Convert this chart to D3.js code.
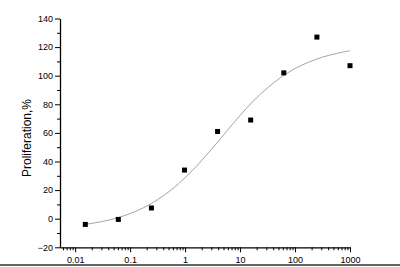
<!DOCTYPE html>
<html>
<head>
<meta charset="utf-8">
<script src="https://cdn.jsdelivr.net/npm/d3@7"></script>
<style>
  body { margin: 0; background: #fff; }
  text { font-family: "Liberation Sans", Arial, sans-serif; }
</style>
</head>
<body>
<svg id="chart" width="400" height="267"></svg>
<script>
// Measured points (concentration, proliferation %)
const concentrations = [0.0153, 0.061, 0.244, 0.977, 3.9, 15.6, 62.5, 250, 1000];
const proliferation = [-4, -0.5, 7.5, 34, 61, 69, 102, 127, 107];

// Fitted curve
const curveX = [0.0158, 0.0316, 0.0562, 0.1, 0.178, 0.316, 0.562, 1, 1.78, 3.16, 5.62, 10, 17.8, 31.6, 56.2, 100, 178, 316, 562, 1000];
const curveY = [-3.9, -1.9, 0.4, 3.6, 7.8, 13.3, 20.2, 28.7, 38.5, 49.4, 60.9, 72.2, 82.7, 91.5, 99, 105, 109.5, 113, 115.5, 117.5];

const xTickValues = [0.01, 0.1, 1, 10, 100, 1000];
const xTickLabels = ["0.01", "0.1", "1", "10", "100", "1000"];
const yTickValues = [-20, 0, 20, 40, 60, 80, 100, 120, 140];

const width = 400;
const height = 267;

const svg = d3.select("#chart");

// Scales
const x = d3.scaleLog().domain([0.0053, 1000]).range([60, 350]);
const y = d3.scaleLinear().domain([-20, 140]).range([247.3, 18.5]);

// Minor ticks
const xMinor = [];
for (let e = -3; e < 3; e++) {
  for (let m = 2; m <= 9; m++) {
    const v = m * Math.pow(10, e);
    if (v >= 0.0053 && v <= 1000) xMinor.push(v);
  }
}
const yMinor = d3.range(-10, 140, 20);

// x axis
svg.append("g")
  .attr("transform", `translate(0,${y(-20)})`)
  .call(d3.axisBottom(x).tickValues(xMinor).tickSize(3).tickFormat(""))
  .call(g => g.select(".domain").remove())
  .selectAll("line").attr("stroke", "#000");

const xAxis = svg.append("g")
  .attr("transform", `translate(0,${y(-20)})`)
  .call(d3.axisBottom(x).tickValues(xTickValues).tickSizeInner(5).tickSizeOuter(0)
    .tickFormat((d, i) => xTickLabels[i]));
xAxis.select(".domain").attr("stroke", "#000").attr("stroke-width", 1.3);
xAxis.selectAll("text").attr("font-size", 9).attr("fill", "#000").attr("dy", "0.9em");

// y axis
svg.append("g")
  .attr("transform", `translate(${x(0.0053)},0)`)
  .call(d3.axisLeft(y).tickValues(yMinor).tickSize(3).tickFormat(""))
  .call(g => g.select(".domain").remove())
  .selectAll("line").attr("stroke", "#000");

const yAxis = svg.append("g")
  .attr("transform", `translate(${x(0.0053)},0)`)
  .call(d3.axisLeft(y).tickValues(yTickValues).tickSizeInner(5).tickSizeOuter(0).tickPadding(2));
yAxis.select(".domain").attr("stroke", "#000").attr("stroke-width", 1.3);
yAxis.selectAll("text").attr("font-size", 9).attr("fill", "#000");

// y axis label
svg.append("text")
  .attr("transform", "rotate(-90)")
  .attr("x", -138)
  .attr("y", 31)
  .attr("text-anchor", "middle")
  .attr("font-size", 12)
  .text("Proliferation,%");

// fitted curve
const line = d3.line()
  .x((d, i) => x(curveX[i]))
  .y(d => y(d))
  .curve(d3.curveCatmullRom);

svg.append("path")
  .datum(curveY)
  .attr("fill", "none")
  .attr("stroke", "#999")
  .attr("stroke-width", 0.9)
  .attr("d", line);

// data points
svg.selectAll(".point")
  .data(proliferation)
  .enter()
  .append("rect")
  .attr("class", "point")
  .attr("x", (d, i) => x(concentrations[i]) - 2.5)
  .attr("y", d => y(d) - 2.5)
  .attr("width", 5)
  .attr("height", 5)
  .attr("fill", "#000");

// bottom border line
svg.append("line")
  .attr("x1", 0)
  .attr("x2", width)
  .attr("y1", 265)
  .attr("y2", 265)
  .attr("stroke", "#666")
  .attr("stroke-width", 2);
</script>
</body>
</html>
